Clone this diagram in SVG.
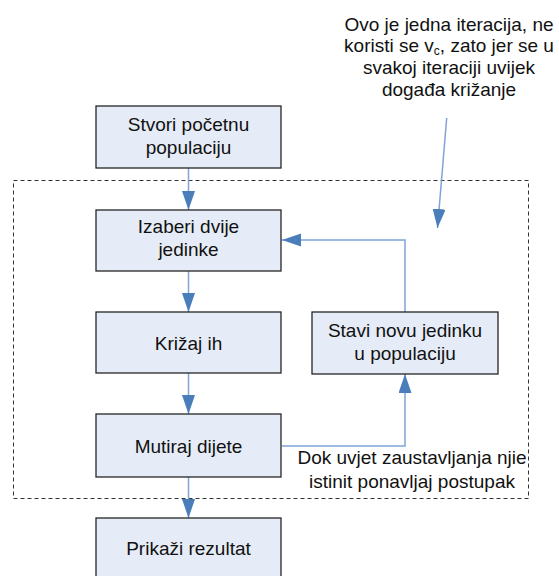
<svg xmlns="http://www.w3.org/2000/svg" width="559" height="576" viewBox="0 0 559 576">
<style>
.box{fill:#e6ecf7;stroke:#262626;stroke-width:1.3}
.t{font-family:"Liberation Sans",Arial,sans-serif;font-size:19px;fill:#111;text-anchor:middle}
.c{fill:none;stroke:#7ea4d8;stroke-width:1.5}
</style>
<defs>
<marker id="ah" markerUnits="userSpaceOnUse" markerWidth="20" markerHeight="14" refX="19" refY="6.5" orient="auto">
<path d="M0,0 L19,6.5 L0,13 z" fill="#4a7ebb"/>
</marker>
</defs>
<rect x="13.5" y="180.5" width="515" height="318" fill="none" stroke="#333" stroke-width="1" stroke-dasharray="4,3"/>
<g id="connectors">
<line class="c" x1="188.5" y1="168" x2="188.5" y2="210" marker-end="url(#ah)"/>
<line class="c" x1="188.5" y1="271" x2="188.5" y2="312" marker-end="url(#ah)"/>
<line class="c" x1="188.5" y1="373" x2="188.5" y2="414" marker-end="url(#ah)"/>
<line class="c" x1="188.5" y1="477" x2="188.5" y2="518" marker-end="url(#ah)"/>
<polyline class="c" points="282,446 405,446 405,374" marker-end="url(#ah)"/>
<polyline class="c" points="405,312 405,240 282,240" marker-end="url(#ah)"/>
<line class="c" x1="446.7" y1="118" x2="437.5" y2="228" marker-end="url(#ah)"/>
</g>
<g id="n1"><rect class="box" x="96" y="106" width="185" height="62"/>
<text class="t" x="188.5" y="131">Stvori početnu</text><text class="t" x="188.5" y="154">populaciju</text></g>
<g id="n2"><rect class="box" x="96" y="210" width="185" height="61"/>
<text class="t" x="188.5" y="233">Izaberi dvije</text><text class="t" x="188.5" y="256">jedinke</text></g>
<g id="n3"><rect class="box" x="96" y="312" width="185" height="61"/>
<text class="t" x="188.5" y="349.5">Križaj ih</text></g>
<g id="n4"><rect class="box" x="96" y="414" width="185" height="63"/>
<text class="t" x="188.5" y="452.5">Mutiraj dijete</text></g>
<g id="n5"><rect class="box" x="96" y="518" width="185" height="70"/>
<text class="t" x="188.5" y="555">Prikaži rezultat</text></g>
<g id="n6"><rect class="box" x="312" y="312" width="186" height="62"/>
<text class="t" x="405" y="337">Stavi novu jedinku</text><text class="t" x="405" y="359.5">u populaciju</text></g>
<g id="label-loop">
<text class="t" x="412" y="464">Dok uvjet zaustavljanja njie</text>
<text class="t" x="412" y="487.5">istinit ponavljaj postupak</text>
</g>
<g id="note">
<text class="t" x="449" y="30.5">Ovo je jedna iteracija, ne</text>
<text class="t" x="449" y="52">koristi se v<tspan font-size="12" dy="3">c</tspan><tspan dy="-3">, zato jer se u</tspan></text>
<text class="t" x="449" y="73.5">svakoj iteraciji uvijek</text>
<text class="t" x="449" y="96">događa križanje</text>
</g>
</svg>
